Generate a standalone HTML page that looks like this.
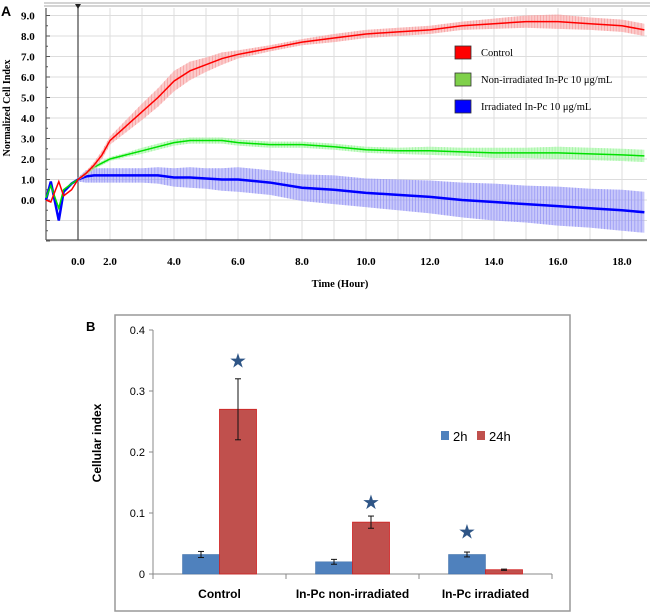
<!DOCTYPE html>
<html><head><meta charset="utf-8"><style>
body{margin:0;background:#fff;width:650px;height:612px;overflow:hidden}
svg{display:block}
</style></head><body>
<svg id="chart" width="650" height="612" xmlns="http://www.w3.org/2000/svg">
<g id="gA"></g>
<g id="gB"></g>
</svg>
<script>
// ---------- Panel A data ----------
const timesA = [-1,-0.85,-0.6,-0.45,-0.2,0,0.5,1,1.5,2,2.5,3,3.5,4,4.5,5,5.5,6,7,8,9,10,11,12,13,14,15,16,17,18,18.7];
const controlMean = [0.0,-0.1,0.9,0.2,0.5,1.0,1.3,1.7,2.2,2.9,3.6,4.3,5.0,5.8,6.3,6.6,6.9,7.1,7.4,7.7,7.9,8.1,8.2,8.3,8.5,8.6,8.7,8.7,8.6,8.5,8.3];
const controlErr  = [0.05,0.05,0.05,0.05,0.05,0.05,0.1,0.15,0.2,0.2,0.3,0.4,0.45,0.5,0.45,0.35,0.3,0.2,0.15,0.15,0.2,0.2,0.2,0.2,0.2,0.25,0.3,0.35,0.3,0.3,0.3];
const greenMean = [0.1,0.7,-0.4,0.5,0.8,1.0,1.3,1.6,1.8,2.0,2.2,2.4,2.6,2.8,2.9,2.9,2.9,2.8,2.7,2.7,2.6,2.45,2.4,2.4,2.35,2.3,2.3,2.3,2.25,2.2,2.15];
const greenErr  = [0.05,0.05,0.05,0.05,0.05,0.05,0.1,0.1,0.1,0.1,0.1,0.15,0.15,0.15,0.15,0.15,0.15,0.15,0.15,0.15,0.15,0.15,0.15,0.2,0.2,0.25,0.25,0.3,0.3,0.3,0.3];
const blueMean = [0.0,0.9,-1.0,0.4,0.8,1.0,1.15,1.2,1.2,1.2,1.2,1.2,1.2,1.1,1.1,1.05,1.0,1.0,0.85,0.6,0.5,0.35,0.25,0.15,0.0,-0.1,-0.2,-0.3,-0.4,-0.5,-0.6];
const blueErr  = [0.05,0.05,0.1,0.1,0.1,0.1,0.3,0.35,0.35,0.35,0.35,0.35,0.4,0.45,0.5,0.5,0.55,0.6,0.6,0.65,0.7,0.7,0.75,0.8,0.85,0.9,0.9,0.95,0.95,1.0,1.0];
const yTicksA = [9,8,7,6,5,4,3,2,1,0];
const xTicksA = [0,2,4,6,8,10,12,14,16,18];
const legendA = ["Control","Non-irradiated In-Pc 10 \u03bcg/mL","Irradiated In-Pc 10 \u03bcg/mL"];

// ---------- Panel B data ----------
const categoriesB = ["Control","In-Pc non-irradiated","In-Pc irradiated"];
const values2h = [0.032,0.020,0.032];
const err2h = [0.005,0.004,0.004];
const values24h = [0.270,0.085,0.007];
const err24h = [0.050,0.010,0.001];
const starValues = [0.35,0.118,0.070];
const yTicksB = [0,0.1,0.2,0.3,0.4];

const NS="http://www.w3.org/2000/svg";
function mk(parent,tag,attrs,text){const e=document.createElementNS(NS,tag);for(const k in attrs)e.setAttribute(k,attrs[k]);if(text!==undefined)e.textContent=text;parent.appendChild(e);return e;}

// ---------- Panel A ----------
const A=document.getElementById('gA');
const L=46,R=647,T=8,B=240;
function xA(t){ if(t<0) return 78+t*32; if(t<=2) return 78+t*16; return 110+(t-2)*32; }
function yA(v){ return 200-v*20.5; }

let e;
mk(A,'line',{x1:44,y1:3,x2:650,y2:3,stroke:'#aaa','stroke-width':1});
mk(A,'line',{x1:44,y1:6,x2:650,y2:6,stroke:'#aaa','stroke-width':1});
e=mk(A,'text',{x:1,y:16,'font-family':'Liberation Sans, sans-serif','font-size':14,'font-weight':'bold'},'A');


// grid
for(let v=-2;v<=9;v++){
  e=mk(A,'line',{x1:L,x2:R,y1:yA(v),y2:yA(v),stroke:'#ddd','stroke-width':1});
  
  
}
for(let t=2;t<=18;t++){
  e=mk(A,'line',{x1:xA(t),x2:xA(t),y1:T,y2:B,stroke:'#ddd','stroke-width':1});
  
  
}
// frame
mk(A,'line',{x1:L,y1:T,x2:L,y2:B,stroke:'#555','stroke-width':1.2});
mk(A,'line',{x1:L,y1:B,x2:R,y2:B,stroke:'#555','stroke-width':1.2});
for(let v=-2;v<=9;v+=0.5){mk(A,'line',{x1:L,x2:L+(v%1===0?4:2),y1:yA(v),y2:yA(v),stroke:'#555'});}
// zero marker
e=mk(A,'line',{x1:78,y1:T,x2:78,y2:B,stroke:'#444','stroke-width':1.2});


mk(A,'polygon',{points:'75,4 81,4 78,9',fill:'#222'});
// ticks labels
yTicksA.forEach(v=>{e=mk(A,'text',{x:21,y:yA(v)+4,'font-family':'Liberation Serif, serif','font-size':11,'font-weight':'bold'},v.toFixed(1));
 
 });
xTicksA.forEach(t=>{e=mk(A,'text',{x:xA(t),y:265,'text-anchor':'middle','font-family':'Liberation Serif, serif','font-size':11,'font-weight':'bold'},t.toFixed(1));
 
 });
e=mk(A,'text',{x:340,y:287,'text-anchor':'middle','font-family':'Liberation Serif, serif','font-size':10.5,'font-weight':'bold'},'Time (Hour)');


e=mk(A,'text',{x:0,y:0,transform:'translate(10,108) rotate(-90)','text-anchor':'middle','font-family':'Liberation Serif, serif','font-size':10,'font-weight':'bold'},'Normalized Cell Index');


// series
function series(mean,err,col,band,w,name){
  const g=mk(A,'g',{});
  
  
  let up='',dn='';
  timesA.forEach((t,i)=>{ if(t>=0){up+=xA(t)+','+yA(mean[i]+err[i])+' ';}});
  for(let i=timesA.length-1;i>=0;i--){const t=timesA[i]; if(t>=0) dn+=xA(t)+','+yA(mean[i]-err[i])+' ';}
  const band_=mk(g,'polygon',{points:up+dn,fill:band,opacity:0.55});
  
  
  for(let i=0;i<timesA.length-1;i++){ if(timesA[i]<0) continue;
    const n=Math.round((xA(timesA[i+1])-xA(timesA[i]))/3);
    for(let k=0;k<n;k++){const f=k/n;const x=xA(timesA[i])+f*(xA(timesA[i+1])-xA(timesA[i]));
      const m=mean[i]+f*(mean[i+1]-mean[i]), s=err[i]+f*(err[i+1]-err[i]);
      mk(g,'line',{x1:x,x2:x,y1:yA(m+s),y2:yA(m-s),stroke:band,'stroke-width':0.8});}
  }
  const pts=timesA.map((t,i)=>xA(t)+','+yA(mean[i])).join(' ');
  const pl=mk(g,'polyline',{points:pts,fill:'none',stroke:col,'stroke-width':w});
  
  
}
series(blueMean,blueErr,'#0000ff','#9a9af5',2.5,'irradiated-series');
series(greenMean,greenErr,'#00e000','#9ff59f',1.5,'non-irradiated-series');
series(controlMean,controlErr,'#ff0000','#f7a0a0',1.5,'control-series');
// legend
const legCols=['#ff0000','#7fd04a','#0000ff'];
legendA.forEach((s,i)=>{
  const y=46+i*27;
  const g=mk(A,'g',{});
  
  
  mk(g,'rect',{x:455,y:y,width:16,height:13,fill:legCols[i],stroke:'#333','stroke-width':0.8});
  mk(g,'text',{x:481,y:y+10,'font-family':'Liberation Serif, serif','font-size':10.5},s);
});

// ---------- Panel B ----------
const Bg=document.getElementById('gB');
function yB(v){ return 574-v*610; }
const gx0=153, gw=133;
e=mk(Bg,'rect',{x:115,y:315,width:455,height:296,fill:'#fff',stroke:'#999','stroke-width':1.5});


e=mk(Bg,'text',{x:86,y:331,'font-family':'Liberation Sans, sans-serif','font-size':13,'font-weight':'bold'},'B');


mk(Bg,'line',{x1:153,y1:yB(0.4),x2:153,y2:574,stroke:'#888'});
mk(Bg,'line',{x1:153,y1:574,x2:552,y2:574,stroke:'#888'});
for(let i=0;i<=3;i++) mk(Bg,'line',{x1:gx0+i*gw,x2:gx0+i*gw,y1:574,y2:579,stroke:'#888'});
yTicksB.forEach(v=>{
  mk(Bg,'line',{x1:149,x2:153,y1:yB(v),y2:yB(v),stroke:'#888'});
  e=mk(Bg,'text',{x:145,y:yB(v)+4,'text-anchor':'end','font-family':'Liberation Sans, sans-serif','font-size':11},String(v));
  
  
});
e=mk(Bg,'text',{x:0,y:0,transform:'translate(101,443) rotate(-90)','text-anchor':'middle','font-family':'Liberation Sans, sans-serif','font-size':12,'font-weight':'bold'},'Cellular index');


function errBar(x,v,s){
  mk(Bg,'line',{x1:x,x2:x,y1:yB(v+s),y2:yB(v-s),stroke:'#111','stroke-width':1});
  mk(Bg,'line',{x1:x-3,x2:x+3,y1:yB(v+s),y2:yB(v+s),stroke:'#111'});
  mk(Bg,'line',{x1:x-3,x2:x+3,y1:yB(v-s),y2:yB(v-s),stroke:'#111'});
}
categoriesB.forEach((c,i)=>{
  const cx=gx0+gw*i+gw/2, bw=37;
  e=mk(Bg,'rect',{x:cx-bw,y:yB(values2h[i]),width:bw,height:574-yB(values2h[i]),fill:'#4f81bd',stroke:'#3f6fa8','stroke-width':0.5});
  
  
  e=mk(Bg,'rect',{x:cx,y:yB(values24h[i]),width:bw,height:574-yB(values24h[i]),fill:'#c0504d',stroke:'#d02020','stroke-width':0.8});
  
  
  errBar(cx-bw/2,values2h[i],err2h[i]);
  errBar(cx+bw/2,values24h[i],err24h[i]);
  e=mk(Bg,'text',{x:cx,y:598,'text-anchor':'middle','font-family':'Liberation Sans, sans-serif','font-size':12,'font-weight':'bold'},c);
  
  
  const sx = i===2 ? cx-bw/2 : cx+bw/2;
  e=mk(Bg,'text',{x:sx,y:yB(starValues[i])+7,'text-anchor':'middle','font-family':'DejaVu Sans, sans-serif','font-size':20,fill:'#2e5586'},'\u2605');
  
  
});
// legend B
let lg=mk(Bg,'g',{});


mk(lg,'rect',{x:441,y:431,width:8,height:9,fill:'#4f81bd'});
mk(lg,'text',{x:453,y:441,'font-family':'Liberation Sans, sans-serif','font-size':13},'2h');
mk(lg,'rect',{x:477,y:431,width:8,height:9,fill:'#c0504d'});
mk(lg,'text',{x:489,y:441,'font-family':'Liberation Sans, sans-serif','font-size':13},'24h');
</script>
</body></html>
